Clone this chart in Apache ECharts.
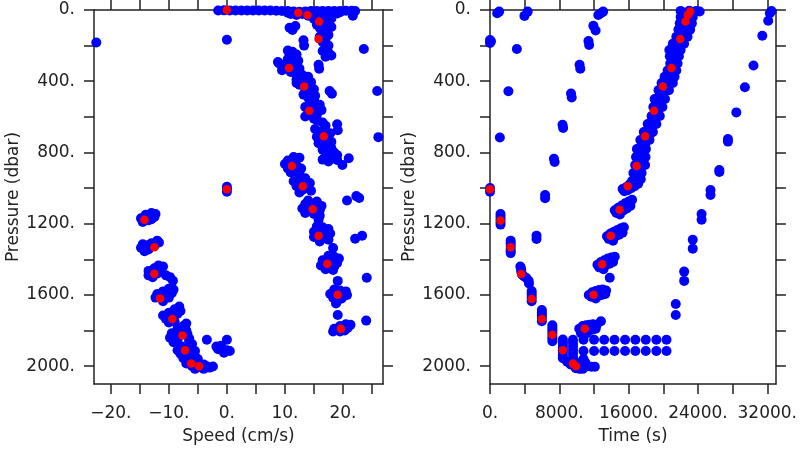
<!DOCTYPE html>
<html><head><meta charset="utf-8">
<script src="https://cdn.jsdelivr.net/npm/echarts@6/dist/echarts.min.js"></script>
<style>html,body{margin:0;padding:0;background:#fff}#c{width:800px;height:450px}</style>
</head><body><div id="c"></div>
<script>
// ---------- tick / label values ----------
const pressTicks = [0,200,400,600,800,1000,1200,1400,1600,1800,2000];
const pressLabels = [0,400,800,1200,1600,2000];
const speedTicks = [-20,-15,-10,-5,0,5,10,15,20,25];
const speedLabels = [-20,-10,0,10,20];
const timeTicks = [0,4000,8000,12000,16000,20000,24000,28000,32000];
const timeLabels = [0,8000,16000,24000,32000];

// ---------- left panel: [speed cm/s, pressure dbar] ----------
const speedBlue = [
 [-1.5,3],[-0.5,2],[0.5,3],[1.5,3],[2.5,3],[3.5,3],[4.5,3],[5.5,3],[6.5,3],[7.5,3],[8.5,4],[9.5,5],[10.5,6],[11.5,8],[12.5,10],[13.5,8],[14.5,6],[15.5,5],[16.5,5],[17.5,5],[18.5,5],[19.5,5],[20.5,4],[21.5,4],[22.1,6],[21.7,32],
 [11,22],[12,28],[13,22],[14,32],[15,26],[16,22],[17,32],[18,26],[19,20],[19.5,12],[10.5,15],
 [15,50],[16,45],[17,55],[18,48],[16.5,70],[15.5,82],[17.5,85],[16,100],[17,110],[18,95],[16.5,125],[17.5,140],
 [10.8,100],[11.8,90],[11.3,112],
 [16,150],[17,160],[16.5,180],[17.5,200],[17,215],[16.5,230],[17.5,240],[18,255],[17,262],
 [13.2,170],[13.3,200],[23.6,219],[15.8,308],[15.9,330],
 [10.5,228],[11.3,235],[12,250],[11.5,262],[10.5,275],[12.3,285],[9,300],[8.8,292],[10,308],[11.5,312],[12.5,328],[9.5,338],[11,348],[12,362],[13,372],
 [13,365],[14,375],[12,390],[13,398],[14.5,405],[12.5,420],[14,432],[15,445],[13.5,455],[14.5,470],[15.2,482],[13.2,475],[12,410],
 [17.7,455],[18.1,470],[25.9,455],
 [14,492],[15,502],[14.5,520],[16,532],[13.5,545],[15,552],[16.3,562],[14,580],[15.5,590],[13.5,598],[15,610],
 [15.5,618],[16.5,632],[17,650],[15.2,668],[16.5,680],[17.8,692],[15.5,712],[17,722],[18,740],[15.8,748],[17,760],[18,775],
 [19,642],[19.1,675],[26.1,714],
 [16.5,785],[17.5,790],[18.5,800],[19,815],[17,820],[18,830],[19,842],[16.5,840],[17.5,850],
 [21,832],[19.9,870],
 [11.5,825],[12.5,830],[10.5,845],[11.5,852],[10,865],[12,872],[10.5,890],[12.8,890],[11.5,905],[12.5,915],[11,912],
 [12.5,940],[13.5,945],[11.5,962],[13,965],[14.3,972],[12,990],[14,995],[13,1010],[14.5,1015],[12.5,1025],
 [15.8,1178],[20.7,1070],[22.3,1045],[22.8,1056],
 [14,1070],[15.5,1075],[13.5,1090],[15,1095],[16.3,1100],[13,1115],[14.5,1122],[16,1125],[13.5,1140],[15,1145],[16,1155],
 [15.5,1215],[16.5,1220],[17.5,1230],[15,1245],[16.5,1250],[17.8,1255],[15,1275],[16.5,1282],[17.5,1290],[16,1300],
 [18.3,1336],[22.1,1284],[23.3,1268],
 [17.5,1380],[18.5,1385],[19.3,1395],[16.5,1405],[18,1410],[19,1420],[16.2,1435],[18.5,1440],[17,1455],[18.3,1460],
 [19.1,1521],[24.1,1503],
 [18.5,1570],[19.5,1575],[20.5,1580],[17.8,1595],[20.7,1600],[18.3,1615],[19.8,1620],[19,1635],
 [18.8,1648],[19.1,1713],[24,1744],
 [20.5,1765],[21.3,1768],[19.5,1775],[18.5,1790],[20.8,1785],[18.3,1805],[19.5,1805],[20.3,1800],
 [-13,1140],[-12.3,1145],[-14,1150],[-13.5,1160],[-12.5,1162],[-14.8,1170],[-13.5,1180],[-14.5,1190],[-13,1175],
 [-12,1295],[-11.7,1305],[-13,1310],[-14.5,1315],[-13.5,1320],[-12.5,1325],[-14.8,1335],[-13.5,1345],[-14.2,1355],
 [-11.8,1435],[-11,1440],[-12.5,1450],[-13.5,1465],[-11.5,1470],[-12,1480],[-13.5,1490],[-12.8,1500],[-10.5,1490],[-9.8,1500],[-9.3,1520],
 [-10,1565],[-9.2,1570],[-11,1580],[-12,1595],[-9.5,1590],[-10.5,1600],[-12.3,1615],[-10,1615],[-11,1635],
 [-8.2,1665],[-9,1680],[-8,1690],[-10,1700],[-11,1715],[-8.5,1705],[-10.5,1735],[-9,1750],[-10,1755],
 [-7,1760],[-7.5,1775],[-8.5,1790],[-7,1800],[-9.5,1815],[-8,1815],[-6.8,1820],[-9.8,1840],[-8.5,1850],[-6.5,1845],[-9.2,1865],
 [-6.5,1860],[-6,1875],[-7.8,1890],[-6.5,1900],[-8.5,1910],[-5.5,1915],[-8,1930],[-6.8,1940],[-5.5,1945],[-7.5,1955],[-6.5,1965],[-5,1960],[-7,1985],[-5.5,1985],[-4,1990],[-6,2000],[-4.5,2005],[-3.5,2000],[-3,2008],[-2.4,2002],[-5.5,2015],[-4,2015],
 [0,167],[0,992],[0,1005],[0,1020],[-22.5,182],
 [-3.45,1852],[0,1852],[-1.8,1890],[-1,1885],[-1.5,1905],[0,1910],[0.5,1915],[-0.5,1925]
];
const speedRed = [
 [-14.2,1178],[-12.5,1332],[-12.5,1481],[-11.5,1620],[-9.4,1735],[-7.65,1827],[-7.2,1911],[-6.15,1985],[-4.8,2000],
 [19.65,1790],[19.1,1599],[17.3,1425],[15.8,1267],[14.8,1119],[13.1,989],[11.2,876],[16.7,709],[14.2,566],[13.3,430],
 [10.7,325],[15.8,163],[15.9,65],[13.9,28],[12.3,15],[0,0],[0,1007]
];

// ---------- right panel: [time s, pressure dbar] ----------
const timeBlue = [
 [114,176],[0,168],[0,185],[830,18],[1056,9],[3976,33],[4350,9],[3100,219],[2125,456],[1136,716],[0,1000],[0,1020],
 [13060,9],[12800,18],[12500,28],[11930,89],[12190,115],[11360,174],[11440,196],[10340,308],[10420,330],[9350,469],[9430,491],
 [8370,644],[8440,662],[7380,835],[7460,853],[6360,1039],[6360,1057],[5370,1267],[5370,1286],
 [32490,6],[32300,18],[32110,60],[31430,145],[30410,312],[29420,434],[28430,575],[27460,724],[27460,739],[26470,898],[26470,909],
 [25450,1011],[25450,1039],[24420,1145],[24420,1178],[23400,1290],[23400,1340],[22410,1469],[22410,1521],[21440,1651],[21440,1713],
 [9577,1852],[10790,1852],[12010,1852],[13180,1852],[14370,1852],[15590,1852],[16780,1852],[17980,1852],[19200,1852],[20370,1852],
 [10790,1915],[12010,1915],[13180,1915],[14370,1915],[15590,1915],[16780,1915],[17980,1915],[19200,1915],[20370,1915],
 [1215,1145],[1215,1160],[1215,1175],[1215,1190],[1215,1205],
 [2386,1295],[2386,1310],[2386,1325],[2386,1340],[2386,1355],[2386,1365],
 [3500,1440],[3600,1455],[3600,1470],[3700,1485],[3900,1495],[4200,1505],[4450,1520],[4500,1535],
 [4810,1578],[4810,1592],[4810,1606],[4810,1620],[4810,1635],
 [5985,1685],[5985,1700],[5985,1715],[5985,1730],[5985,1748],
 [7200,1770],[7200,1785],[7200,1800],[7200,1815],[7200,1830],[7200,1845],[7200,1860],
 [8410,1850],[8410,1865],[8410,1880],[8410,1895],[8410,1910],[8410,1925],[8410,1940],[8410,1955],
 [9580,1870],[9580,1890],[9580,1910],[9580,1930],[9580,1950],[9580,1970],
 [8900,1975],[9300,1990],[9700,1995],[10100,2000],[10500,2005],[10900,2005],[11300,2000],[11700,2003],[12100,2003],
 [9900,2012],[10300,2015],[10700,2015],[10000,1980],[10600,1985],[11000,1980],[11000,1990],[10790,1960],
 [10300,1790],[10700,1775],[11100,1770],[11500,1768],[11900,1765],[12300,1770],[10600,1800],[11000,1805],[11400,1800],[11800,1795],[12200,1790],[10500,1815],[11200,1815],[12800,1748],
 [11400,1600],[11800,1585],[12200,1578],[12600,1572],[13000,1570],[13400,1575],[11700,1610],[12100,1612],[12500,1605],[12900,1600],[13300,1595],[12200,1620],[13820,1503],
 [12400,1430],[12800,1415],[13200,1405],[13600,1395],[14000,1390],[14400,1385],[12600,1445],[13000,1440],[13400,1430],[13800,1425],[14200,1415],[13100,1455],[12700,1425],
 [13500,1270],[13900,1255],[14300,1245],[14700,1235],[15100,1225],[15450,1220],[13700,1285],[14100,1280],[14500,1270],[14900,1262],[15300,1250],[14200,1295],
 [14400,1125],[14800,1110],[15200,1098],[15600,1085],[16000,1075],[16400,1065],[14600,1140],[15000,1135],[15400,1125],[15800,1115],[16200,1100],[15000,1148],
 [15300,1005],[15700,995],[16100,980],[16500,970],[16900,960],[17400,950],[15500,1018],[15900,1012],[16300,1000],[16700,990],[17100,975],
 [22000,5],[23000,4],[23800,5],[24200,8],[22000,40],[23400,40],[21900,75],[23300,75],[22600,60],[21750,110],[23100,110],[22400,130],
 [21500,150],[22800,150],[21100,190],[22400,190],[21800,170],[20700,225],[22000,225],[20750,260],[21800,260],[21300,240],
 [20800,300],[21650,300],[20500,340],[21500,340],[21000,320],[20150,375],[21300,375],[19800,410],[21100,410],[20500,395],
 [19450,450],[20650,450],[20000,470],[19000,500],[20200,500],[18850,545],[19900,545],[19400,525],[18650,595],[19600,595],[19100,570],
 [18200,640],[19200,640],[18700,620],[17750,685],[18800,685],[18300,665],[17350,730],[18400,730],[17900,710],
 [16950,780],[18000,780],[17500,755],[16850,825],[17950,825],[17400,805],[16750,870],[17900,870],[17300,850],
 [16550,915],[17500,915],[17000,895],[16400,960],[17100,960],[16700,940],
 [22500,25],[22500,95],[22100,160],[21400,205],[21300,280],[21000,355],[20400,430],[19600,480],[19350,560],[18900,605],[18450,700],[17900,765],[17400,840],[17100,930]
];
const timeRed = [
 [0,1007],[1215,1182],[2386,1332],[3600,1482],[4810,1623],[5985,1735],[7200,1824],[8410,1911],[9580,1985],[9920,2000],
 [10940,1790],[11960,1599],[12950,1427],[13940,1267],[14960,1121],[15900,989],[16930,876],[17910,709],[18930,566],
 [19960,430],[20940,325],[21960,163],[22570,65],[22830,28],[23100,9]
];

// ---------- chart ----------
const FONT = 'DejaVu Sans';
const INK = '#222';
const lineStyle = {color: INK, width: 1.5};
const txt = {fontFamily: FONT, fontSize: 17, color: INK};
function fmt(v){ return (v < 0 ? '\u2212' + Math.abs(v) : String(v)) + '.'; }

function xAx(grid, pos, min, max, ticks, labels, name){
  return {
    gridIndex: grid, type: 'value', position: pos, min: min, max: max,
    axisLine: {show: true, onZero: false, lineStyle: lineStyle},
    axisTick: {show: true, inside: false, length: 10, customValues: ticks, lineStyle: lineStyle},
    axisLabel: labels ? Object.assign({show: true, customValues: labels, formatter: fmt, margin: 21}, txt) : {show: false},
    splitLine: {show: false},
    name: name || '', nameLocation: 'middle', nameGap: 44, nameTextStyle: txt
  };
}
function yAx(grid, pos, labels, name){
  return {
    gridIndex: grid, type: 'value', position: pos, min: 0, max: 2100, inverse: true,
    axisLine: {show: true, onZero: false, lineStyle: lineStyle},
    axisTick: {show: true, inside: false, length: 10, customValues: pressTicks, lineStyle: lineStyle},
    axisLabel: labels ? Object.assign({show: true, customValues: labels, formatter: fmt, margin: 19}, txt) : {show: false},
    splitLine: {show: false},
    name: name || '', nameLocation: 'middle', nameGap: 70, nameTextStyle: txt
  };
}

const chart = echarts.init(document.getElementById('c'), null, {renderer: 'canvas'});
chart.setOption({
  animation: false,
  backgroundColor: '#fff',
  grid: [
    {left: 94, right: 417, top: 10, bottom: 63},
    {left: 490, right: 20, top: 10, bottom: 63}
  ],
  xAxis: [
    xAx(0, 'bottom', -22.9, 26.9, speedTicks, speedLabels, 'Speed (cm/s)'),
    xAx(0, 'top', -22.9, 26.9, speedTicks, null),
    xAx(1, 'bottom', 0, 33000, timeTicks, timeLabels, 'Time (s)'),
    xAx(1, 'top', 0, 33000, timeTicks, null)
  ],
  yAxis: [
    yAx(0, 'left', pressLabels, 'Pressure (dbar)'),
    yAx(0, 'right', null),
    yAx(1, 'left', pressLabels, 'Pressure (dbar)'),
    yAx(1, 'right', null)
  ],
  series: [
    {type: 'scatter', xAxisIndex: 0, yAxisIndex: 0, data: speedBlue, symbolSize: 10, itemStyle: {color: '#0000ff', opacity: 1}},
    {type: 'scatter', xAxisIndex: 0, yAxisIndex: 0, data: speedRed, symbolSize: 8.5, itemStyle: {color: '#ff0000', opacity: 1}},
    {type: 'scatter', xAxisIndex: 2, yAxisIndex: 2, data: timeBlue, symbolSize: 10, itemStyle: {color: '#0000ff', opacity: 1}},
    {type: 'scatter', xAxisIndex: 2, yAxisIndex: 2, data: timeRed, symbolSize: 8.5, itemStyle: {color: '#ff0000', opacity: 1}}
  ]
});
</script></body></html>
